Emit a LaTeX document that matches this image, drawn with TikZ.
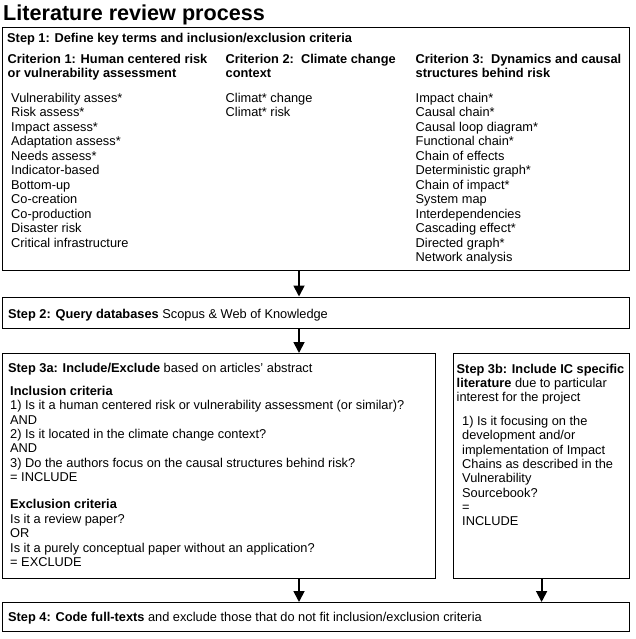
\documentclass[tikz,border=0pt]{standalone}
\usepackage{fontspec}
\setmainfont{Liberation Sans}
\usetikzlibrary{arrows.meta}
\newcommand\mylines[2]{{\fontsize{12.8}{#1}\selectfont\begin{tabular}[t]{@{}l@{}}#2\end{tabular}}}
\begin{document}
\begin{tikzpicture}[x=1pt,y=-1pt,
  box/.style={draw=black, line width=1.2pt, rectangle, inner sep=0pt, anchor=north west},
  txt/.style={inner sep=0pt, anchor=base west, font=\fontsize{12.8}{14.5}\selectfont},
  arr/.style={line width=1.8pt, -{Triangle[width=11pt,length=11pt]}}]
\useasboundingbox (0,0) rectangle (635,639);
\path[fill=white] (0,0) rectangle (635,639);

\node[inner sep=0pt, anchor=base west, font=\fontsize{21.6}{24}\selectfont\bfseries] (title) at (3,21) {Literature review process};

% boxes
\node[box, minimum width=627pt, minimum height=243pt] (s1) at (2,27) {};
\node[box, minimum width=627pt, minimum height=31pt] (s2) at (2,296.5) {};
\node[box, minimum width=433pt, minimum height=225pt] (s3a) at (2,353) {};
\node[box, minimum width=176pt, minimum height=225pt] (s3b) at (453,353) {};
\node[box, minimum width=627pt, minimum height=29pt] (s4) at (2,602) {};

% step 1
\node[txt] (s1h) at (7,42.5) {\textbf{Step 1: Define key terms and inclusion/exclusion criteria}};
\node[txt] (c1h) at (7.5,63.5) {\mylines{14.5}{\textbf{Criterion 1: Human centered risk}\\\textbf{or vulnerability assessment}}};
\node[txt] (c2h) at (225.5,63.5) {\mylines{14.5}{\textbf{Criterion 2:\ \ Climate change}\\\textbf{context}}};
\node[txt] (c3h) at (415.5,63.5) {\mylines{14.5}{\textbf{Criterion 3:\ \ Dynamics and causal}\\\textbf{structures behind risk}}};
\node[txt] (c1l) at (11,102.5) {\mylines{14.5}{Vulnerability asses*\\Risk assess*\\Impact assess*\\Adaptation assess*\\Needs assess*\\Indicator-based\\Bottom-up\\Co-creation\\Co-production\\Disaster risk\\Critical infrastructure}};
\node[txt] (c2l) at (225.5,102.5) {\mylines{14.5}{Climat* change\\Climat* risk}};
\node[txt] (c3l) at (415.5,102.5) {\mylines{14.5}{Impact chain*\\Causal chain*\\Causal loop diagram*\\Functional chain*\\Chain of effects\\Deterministic graph*\\Chain of impact*\\System map\\Interdependencies\\Cascading effect*\\Directed graph*\\Network analysis}};

% step 2
\node[txt] (s2t) at (8,318) {\textbf{Step 2: Query databases} Scopus \& Web of Knowledge};

% step 3a
\node[txt] (s3at) at (8,372.5) {\textbf{Step 3a: Include/Exclude} based on articles’ abstract};
\node[txt] (incl) at (10,395.5) {\mylines{14.35}{\textbf{Inclusion criteria}\\1) Is it a human centered risk or vulnerability assessment (or similar)?\\AND\\2) Is it located in the climate change context?\\AND\\3) Do the authors focus on the causal structures behind risk?\\= INCLUDE}};
\node[txt] (excl) at (10,508.5) {\mylines{14.5}{\textbf{Exclusion criteria}\\Is it a review paper?\\OR\\Is it a purely conceptual paper without an application?\\= EXCLUDE}};

% step 3b
\node[txt] (s3bt) at (456.5,373.5) {\mylines{14}{\textbf{Step 3b: Include IC specific}\\\textbf{literature} due to particular\\interest for the project}};
\node[txt] (s3bl) at (462,425.5) {\mylines{14.3}{1) Is it focusing on the\\development and/or\\implementation of Impact\\Chains as described in the\\Vulnerability\\Sourcebook?\\=\\INCLUDE}};

% step 4
\node[txt] (s4t) at (8,621.5) {\textbf{Step 4: Code full-texts} and exclude those that do not fit inclusion/exclusion criteria};

% arrows
\coordinate (ax) at (299,0);
\draw[arr] (s1.south -| ax) -- (s2.north -| ax);
\draw[arr] (s2.south -| ax) -- (s3a.north -| ax);
\draw[arr] (s3a.south -| ax) -- (s4.north -| ax);
\draw[arr] (s3b.south) -- (s4.north -| s3b.south);
\end{tikzpicture}
\end{document}
